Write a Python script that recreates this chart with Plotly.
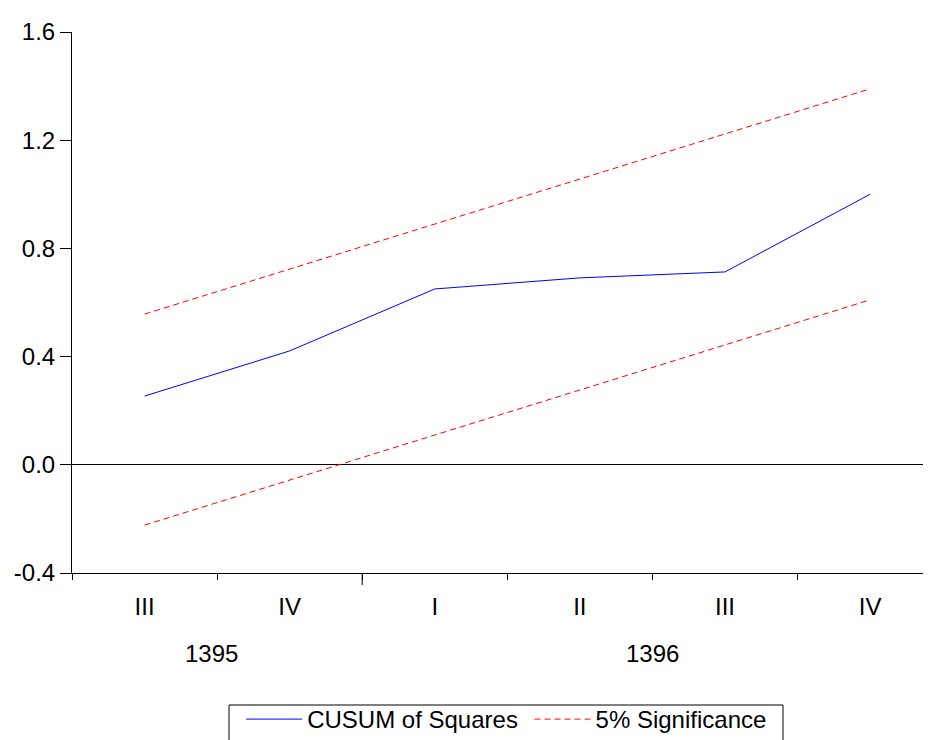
import plotly.graph_objects as go

quarters = ["III", "IV", "I", "II", "III", "IV"]
years = ["1395", "1396"]
year_pos = [0.46, 3.5]
cusum_sq = [0.254, 0.421, 0.650, 0.691, 0.713, 1.000]
upper_5 = [0.557, 0.723, 0.890, 1.057, 1.223, 1.390]
lower_5 = [-0.223, -0.057, 0.110, 0.277, 0.443, 0.610]

xpos = list(range(len(quarters)))
FONT = "Liberation Sans, Arial, sans-serif"
PLOT_W, PLOT_H = 859, 541

fig = go.Figure()
fig.add_trace(go.Scatter(x=xpos, y=cusum_sq, mode="lines", name="CUSUM of Squares ",
                         line=dict(color="#0000ff", width=1)))
fig.add_trace(go.Scatter(x=xpos, y=upper_5, mode="lines", name="5% Significance",
                         line=dict(color="#ff0000", width=1, dash="6px,4px")))
fig.add_trace(go.Scatter(x=xpos, y=lower_5, mode="lines", name="5% Significance",
                         showlegend=False,
                         line=dict(color="#ff0000", width=1, dash="6px,4px")))

fig.update_layout(
    width=923, height=732,
    margin=dict(l=64, r=0, t=24, b=167, autoexpand=False),
    paper_bgcolor="white", plot_bgcolor="white",
    font=dict(family=FONT, size=24, color="black"),
    showlegend=True,
    legend=dict(orientation="h", x=0.506, xanchor="center", y=-124 / PLOT_H, yanchor="top",
                borderwidth=0, bgcolor="rgba(0,0,0,0)", font=dict(size=24),
                itemwidth=56, tracegroupgap=0),
    xaxis=dict(range=[-0.5, 5.42], showgrid=False, zeroline=False, automargin=False,
               showline=True, linecolor="black", linewidth=1,
               tickvals=xpos, ticktext=quarters, ticks="",
               ticklabelstandoff=12,
               minor=dict(tickvals=[-0.5, 0.5, 1.5, 2.5, 3.5, 4.5], ticks="outside",
                          ticklen=6, tickcolor="black", tickwidth=1, showgrid=False)),
    yaxis=dict(range=[-0.4, 1.6], showgrid=False, automargin=False,
               zeroline=True, zerolinecolor="black", zerolinewidth=1,
               showline=True, linecolor="black", linewidth=1,
               tickvals=[-0.4, 0.0, 0.4, 0.8, 1.2, 1.6],
               ticktext=["-0.4", "0.0", "0.4", "0.8", "1.2", "1.6"],
               ticks="outside", ticklen=11, tickcolor="black", tickwidth=1),
)

# longer tick at the year boundary
fig.add_shape(type="line", xref="x", yref="paper", x0=1.5, x1=1.5, y0=0, y1=-12 / PLOT_H,
              line=dict(color="black", width=1))

# legend frame
fig.add_shape(type="rect", xref="paper", yref="paper",
              x0=(229 - 72) / PLOT_W, x1=(783 - 72) / PLOT_W,
              y0=-(705 - 573) / PLOT_H, y1=-(760 - 573) / PLOT_H,
              line=dict(color="black", width=1), fillcolor="rgba(0,0,0,0)")

for yr, p in zip(years, year_pos):
    fig.add_annotation(x=p, y=-80 / PLOT_H, xref="x", yref="paper", text=yr,
                       showarrow=False, xanchor="center", yanchor="middle",
                       font=dict(size=24))

fig.write_html("out.html")
